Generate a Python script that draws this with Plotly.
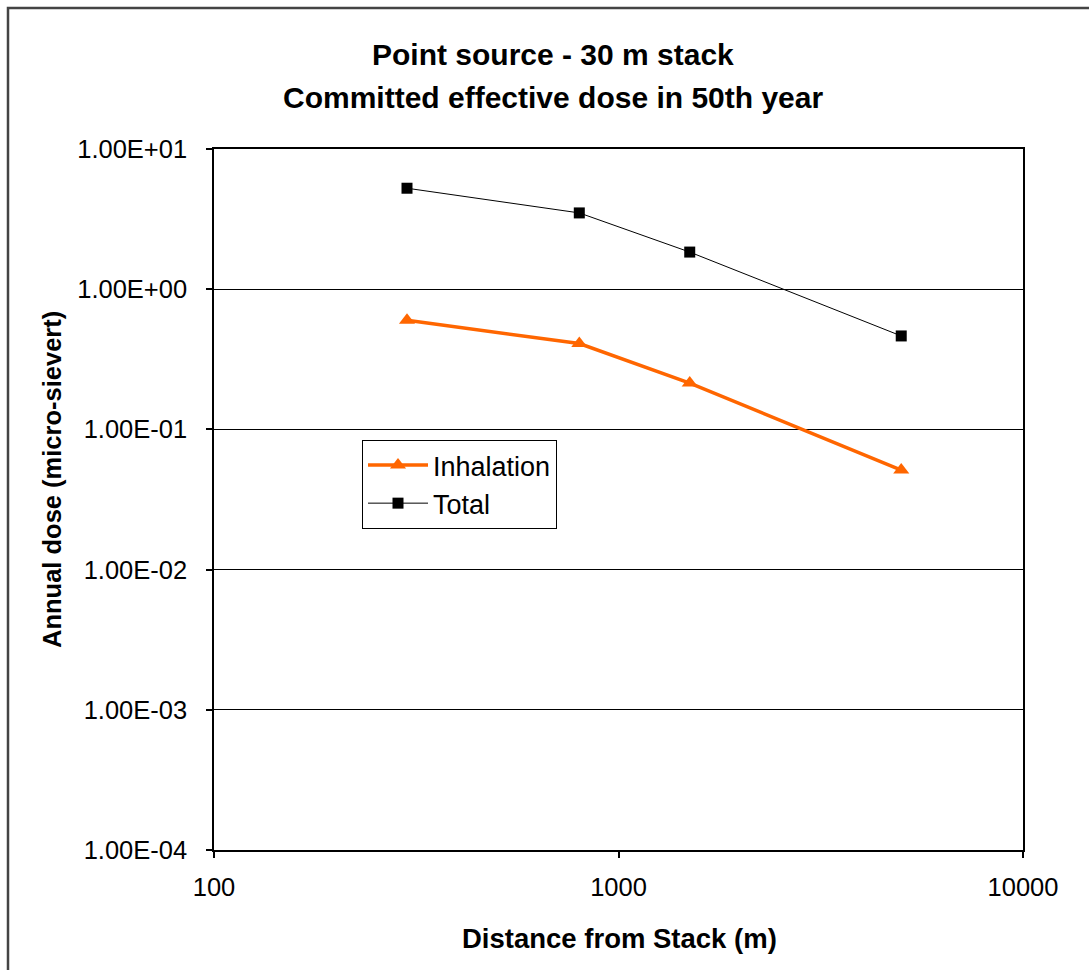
import plotly.graph_objects as go

# Distance from the stack (m)
distance = [300, 800, 1500, 5000]
# Annual committed effective dose (micro-sievert)
inhalation = [0.60, 0.41, 0.214, 0.0513]
total = [5.25, 3.5, 1.84, 0.464]

y_ticks = [1e-4, 1e-3, 1e-2, 1e-1, 1e0, 1e1]
y_tick_text = ["1.00E-04", "1.00E-03", "1.00E-02", "1.00E-01", "1.00E+00", "1.00E+01"]
x_ticks = [100, 1000, 10000]
x_tick_text = ["100", "1000", "10000"]

W, H = 1089, 970
L, R, T, B = 214, 66, 149, 120
pw, ph = W - L - R, H - T - B


def px(x):
    return (x - L) / pw


def py(y):
    return (H - B - y) / ph


font = "Liberation Sans, Arial, sans-serif"

fig = go.Figure()
fig.add_trace(go.Scatter(
    x=distance, y=inhalation, name="Inhalation", mode="lines+markers",
    line=dict(color="#FF6600", width=3.5),
    marker=dict(symbol="triangle-up", size=14, color="#FF6600"),
    legendgroup="a",
))
fig.add_trace(go.Scatter(
    x=distance, y=total, name="Total", mode="lines+markers",
    line=dict(color="#000000", width=1),
    marker=dict(symbol="square", size=11, color="#000000"),
    legendgroup="b",
))

axis_common = dict(
    showline=True, linecolor="#000000", linewidth=1.5, mirror=True,
    ticks="outside", ticklen=6, tickcolor="#000000", tickwidth=1.5,
    tickfont=dict(family=font, size=25.5, color="#000000"),
    zeroline=False,
)

fig.update_xaxes(
    type="log", range=[2, 4], tickvals=x_ticks, ticktext=x_tick_text,
    showgrid=False, ticklabelstandoff=8,
    **axis_common,
)
fig.update_yaxes(
    type="log", range=[-4, 1], tickvals=y_ticks, ticktext=y_tick_text,
    showgrid=True, gridcolor="#000000", gridwidth=1, ticklabelstandoff=14,
    **axis_common,
)

title_font = dict(family=font, size=30, color="#000000")
annotations = [
    dict(text="<b>Point source - 30 m stack</b>", x=px(553), y=py(55),
         font=title_font),
    dict(text="<b>Committed effective dose in 50th year</b>", x=px(553), y=py(97),
         font=title_font),
    dict(text="<b>Distance from Stack (m)</b>", x=px(619), y=py(938),
         font=dict(family=font, size=27.5, color="#000000")),
    dict(text="<b>Annual dose (micro-sievert)</b>", x=px(52), y=py(480),
         textangle=-90, font=dict(family=font, size=25.5, color="#000000")),
]
for a in annotations:
    a.update(xref="paper", yref="paper", xanchor="center", yanchor="middle",
             showarrow=False)

fig.update_layout(
    width=W, height=H,
    margin=dict(l=L, r=R, t=T, b=B),
    paper_bgcolor="#ffffff", plot_bgcolor="#ffffff",
    annotations=annotations,
    legend=dict(
        x=px(362), y=py(440), xanchor="left", yanchor="top",
        bgcolor="#ffffff", bordercolor="#000000", borderwidth=1,
        font=dict(family=font, size=27, color="#000000"),
        tracegroupgap=0, itemwidth=60,
    ),
    showlegend=True,
    shapes=[
        dict(type="rect", xref="paper", yref="paper",
             x0=px(8), x1=px(1100), y0=py(980), y1=py(8),
             line=dict(color="#444444", width=2.5), layer="below"),
    ],
)

fig.write_html("out.html")
